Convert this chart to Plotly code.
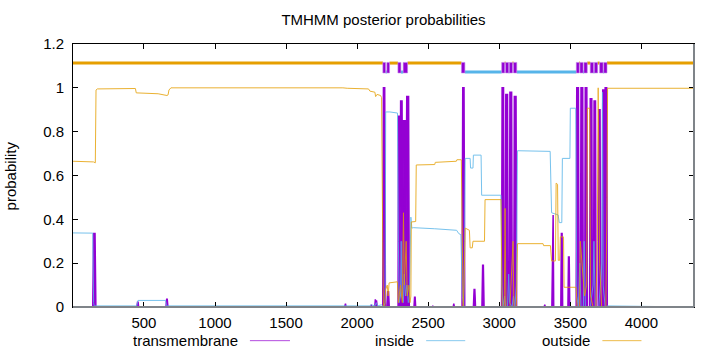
import plotly.graph_objects as go

# ---------------- data ----------------
seq_len = 4370
x_ticks = [500, 1000, 1500, 2000, 2500, 3000, 3500, 4000]
y_ticks = [0, 0.2, 0.4, 0.6, 0.8, 1.0, 1.2]
y_ticktext = ["0", "0.2", "0.4", "0.6", "0.8", "1", "1.2"]

# transmembrane posterior (breakpoints)
tm_x = [1, 140, 146, 156, 162, 450, 455, 459, 463, 655, 660, 664, 669,
        1912, 1918, 1922, 2096, 2100, 2104, 2124, 2128, 2132, 2136, 2142,
        2180, 2185, 2194, 2199, 2210, 2215, 2221, 2226,
        2288, 2291, 2298, 2302, 2306, 2316, 2320, 2326, 2338, 2343, 2349, 2362, 2367,
        2400, 2404, 2408, 2412, 2530, 2532, 2535, 2676, 2680, 2684,
        2738, 2743, 2752, 2757, 2818, 2823, 2828, 2833, 2878, 2883, 2888, 2893,
        3016, 3020, 3030, 3034, 3042, 3046, 3058, 3062, 3071, 3075, 3087, 3091,
        3102, 3106, 3118, 3122,
        3316, 3320, 3324, 3370, 3374, 3379, 3383, 3433, 3437, 3442, 3446,
        3483, 3487, 3492, 3496,
        3541, 3545, 3557, 3561, 3571, 3575, 3587, 3591, 3601, 3605, 3616, 3620,
        3636, 3640, 3651, 3655, 3663, 3667, 3677, 3681, 3696, 3700, 3709, 3713,
        3724, 3728, 3737, 3740, 3742, 3745, 3756, 3760, 4370]
tm_y = [0, 0, 0.335, 0.335, 0, 0, 0.022, 0.022, 0, 0, 0.035, 0.035, 0,
        0, 0.015, 0, 0, 0.01, 0, 0, 0.035, 0, 0.03, 0,
        0, 1.0, 1.0, 0, 0, 0.07, 0.07, 0,
        0, 0.87, 0.87, 0.25, 0.94, 0.94, 0.25, 0.85, 0.85, 0.25, 0.96, 0.96, 0,
        0, 0.045, 0.045, 0, 0, 0.006, 0, 0, 0.015, 0,
        0, 1.0, 1.0, 0, 0, 0.08, 0.08, 0, 0, 0.19, 0.19, 0,
        0, 1.0, 1.0, 0, 0, 0.97, 0.97, 0, 0, 0.98, 0.98, 0,
        0, 0.96, 0.96, 0,
        0, 0.01, 0, 0, 0.42, 0.42, 0, 0, 0.335, 0.335, 0,
        0, 0.228, 0.228, 0,
        0, 1.0, 1.0, 0, 0, 1.0, 1.0, 0, 0, 1.0, 1.0, 0,
        0, 0.95, 0.95, 0, 0, 0.94, 0.94, 0, 0, 0.90, 0.90, 0,
        0, 0.99, 0.99, 0.2, 0.2, 1.0, 1.0, 0, 0]

# inside posterior (breakpoints)
in_x = [1, 140, 146, 150, 450, 458, 652, 660, 2085, 2100, 2125, 2135, 2145, 2170, 2180,
        2186, 2197, 2201, 2230, 2284, 2290, 2296, 2305, 2310, 2316, 2325, 2332, 2340,
        2350, 2360, 2368, 2378, 2385, 2395, 2546, 2700, 2715, 2730, 2740, 2750, 2756,
        2760, 2795, 2798, 2815, 2818, 2872, 2876, 3012, 3018, 3026, 3038, 3045, 3058,
        3066, 3072, 3090, 3100, 3110, 3120, 3128, 3358, 3368, 3395, 3414, 3422, 3440,
        3444, 3497, 3500, 3538, 3545, 3556, 3566, 3575, 3592, 3597, 3606, 3640, 3660,
        3666, 3675, 3700, 3722, 3726, 3731, 3745, 3762, 4370]
in_y = [0.338, 0.337, 0.02, 0.005, 0.005, 0.03, 0.03, 0.005, 0.005, 0.01, 0.005, 0.02,
        0.005, 0.01, 0.005, 0.0, 0.02, 0.89, 0.89, 0.885, 0.3, 0.02, 0.05, 0.3, 0.05,
        0.02, 0.15, 0.05, 0.1, 0.02, 0.05, 0.41, 0.36, 0.362, 0.357, 0.35, 0.335, 0.33,
        0.05, 0.0, 0.3, 0.678, 0.678, 0.634, 0.634, 0.693, 0.693, 0.51, 0.51, 0.1, 0.0,
        0.05, 0.0, 0.0, 0.15, 0.02, 0.0, 0.05, 0.0, 0.1, 0.713, 0.71, 0.43, 0.426, 0.42,
        0.385, 0.385, 0.678, 0.678, 0.907, 0.907, 0.05, 0.0, 0.2, 0.0, 0.0, 0.3, 0.0,
        0.0, 0.1, 0.3, 0.0, 0.0, 0.2, 0.98, 0.1, 0.0, 0.005, 0.0]

# outside posterior (breakpoints)
out_x = [1, 145, 158, 163, 172, 440, 446, 600, 662, 670, 676, 690, 1900, 1930, 2080,
         2090, 2125, 2130, 2140, 2165, 2172, 2175, 2180, 2185, 2195, 2200, 2212, 2218,
         2225, 2283, 2290, 2305, 2318, 2326, 2332, 2345, 2352, 2365, 2372, 2378, 2381,
         2412, 2416, 2546, 2550, 2698, 2702, 2733, 2740, 2746, 2752, 2760, 2790, 2795,
         2810, 2815, 2896, 2900, 3012, 3020, 3035, 3041, 3047, 3066, 3075, 3097, 3103,
         3120, 3128, 3308, 3312, 3360, 3368, 3395, 3400, 3410, 3415, 3425, 3430, 3452,
         3456, 3540, 3548, 3565, 3570, 3600, 3615, 3620, 3636, 3642, 3660, 3680, 3690,
         3696, 3706, 3720, 3750, 3758, 3762, 4370]
out_y = [0.665, 0.662, 0.658, 0.99, 0.995, 0.997, 0.977, 0.973, 0.965, 0.968, 0.99, 1.0,
         1.0, 0.998, 0.995, 0.985, 0.98, 0.96, 0.97, 0.965, 0.955, 0.8, 0.3, 0.0, 0.0,
         0.08, 0.1, 0.05, 0.11, 0.115, 0.02, 0.1, 0.02, 0.43, 0.1, 0.3, 0.05, 0.1, 0.02,
         0.05, 0.388, 0.39, 0.648, 0.65, 0.66, 0.665, 0.672, 0.672, 0.2, 0.0, 0.1, 0.36,
         0.35, 0.27, 0.27, 0.30, 0.30, 0.49, 0.49, 0.0, 0.0, 0.45, 0.0, 0.0, 0.0, 0.3,
         0.0, 0.0, 0.289, 0.289, 0.28, 0.28, 0.21, 0.21, 0.565, 0.56, 0.213, 0.213, 0.32,
         0.32, 0.09, 0.09, 0.0, 0.0, 0.3, 0.05, 0.1, 0.907, 0.907, 0.05, 0.0, 0.0, 0.3,
         1.0, 0.2, 0.0, 0.0, 0.5, 0.998, 0.998]

# predicted topology (top bar)
topo_outside = [(1, 2181), (2228, 2287), (2355, 2734), (3038, 3044), (3093, 3100),
                (3563, 3568), (3619, 3640), (3692, 3706), (3758, 4370)]
topo_inside = [(2200, 2209), (2308, 2324), (2758, 3017), (3066, 3071), (3123, 3542),
               (3590, 3596), (3663, 3669), (3730, 3735)]
topo_tm = [(2181, 2200), (2209, 2228), (2287, 2308), (2324, 2355), (2734, 2758),
           (3017, 3038), (3044, 3066), (3071, 3093), (3100, 3123), (3542, 3563),
           (3568, 3590), (3596, 3619), (3640, 3663), (3669, 3692), (3706, 3730),
           (3735, 3758)]
level_out, level_in, tm_lo, tm_hi = 1.113, 1.072, 1.068, 1.116

C_TM, C_IN, C_OUT = "#9400d3", "#56b4e9", "#e69f00"
FONT = "Liberation Sans"
FS = 15

fig = go.Figure()

# transmembrane (filled spikes)
fig.add_trace(go.Scatter(x=tm_x, y=tm_y, mode="lines", line=dict(color=C_TM, width=1.5),
                         fill="tozeroy", fillcolor=C_TM, hoverinfo="skip"))
# inside / outside thin lines
fig.add_trace(go.Scatter(x=in_x, y=in_y, mode="lines", line=dict(color=C_IN, width=1),
                         opacity=0.8, hoverinfo="skip"))
fig.add_trace(go.Scatter(x=out_x, y=out_y, mode="lines", line=dict(color=C_OUT, width=1),
                         opacity=0.8, hoverinfo="skip"))


def seg_xy(segs, level):
    xs, ys = [], []
    for a, b in segs:
        xs += [a, b, None]
        ys += [level, level, None]
    return xs, ys


ox, oy = seg_xy(topo_outside, level_out)
ix, iy = seg_xy(topo_inside, level_in)
fig.add_trace(go.Scatter(x=ox, y=oy, mode="lines", line=dict(color=C_OUT, width=3),
                         hoverinfo="skip"))
fig.add_trace(go.Scatter(x=ix, y=iy, mode="lines", line=dict(color=C_IN, width=3),
                         hoverinfo="skip"))
bx, by = [], []
for a, b in topo_tm:
    bx += [a, b, b, a, a, None]
    by += [tm_lo, tm_lo, tm_hi, tm_hi, tm_lo, None]
fig.add_trace(go.Scatter(x=bx, y=by, mode="lines", fill="toself", fillcolor=C_TM,
                         line=dict(color="#c080e8", width=0.6), hoverinfo="skip"))

axis_common = dict(showgrid=False, zeroline=False, ticks="inside", ticklen=5,
                   tickcolor="black", showline=True, linecolor="black", linewidth=1,
                   mirror="ticks", tickfont=dict(family=FONT, size=FS, color="black"))
fig.update_xaxes(range=[1, seq_len], tickvals=x_ticks, ticklabelstandoff=2, **axis_common)
fig.update_yaxes(range=[0, 1.2], tickvals=y_ticks, ticktext=y_ticktext,
                 ticklabelstandoff=5, **axis_common)

# gray right / bottom borders
fig.add_shape(type="line", xref="paper", yref="paper", x0=1, x1=1, y0=0, y1=1,
              line=dict(color="#7f8489", width=2))
fig.add_shape(type="line", xref="paper", yref="paper", x0=0, x1=1, y0=0, y1=0,
              line=dict(color="#7f8489", width=2))

# legend (gnuplot style: text then sample)
legend_items = [("transmembrane", C_TM, 0.2688, 0.2849, 0.3494),
                ("inside", C_IN, 0.5526, 0.5687, 0.6316),
                ("outside", C_OUT, 0.8363, 0.8525, 0.9154)]
ly = -0.1280
for name, col, tx, s0, s1 in legend_items:
    fig.add_annotation(x=tx, y=ly, xref="paper", yref="paper", text=name, showarrow=False,
                       xanchor="right", yanchor="middle",
                       font=dict(family=FONT, size=FS, color="black"))
    fig.add_shape(type="line", xref="paper", yref="paper", x0=s0, x1=s1, y0=ly, y1=ly,
                  line=dict(color=col, width=1), opacity=0.7)

fig.add_annotation(x=-0.1, y=0.5, xref="paper", yref="paper", text="probability",
                   textangle=-90, showarrow=False, xanchor="center", yanchor="middle",
                   font=dict(family=FONT, size=FS, color="black"))

fig.update_layout(
    width=720, height=352, margin=dict(l=73, r=26, t=44, b=45),
    paper_bgcolor="white", plot_bgcolor="white", showlegend=False,
    title=dict(text="TMHMM posterior probabilities", x=0.5, xref="paper",
               y=1 - 20 / 352, yanchor="middle",
               font=dict(family=FONT, size=FS, color="black")),
)

fig.write_html("out.html")
